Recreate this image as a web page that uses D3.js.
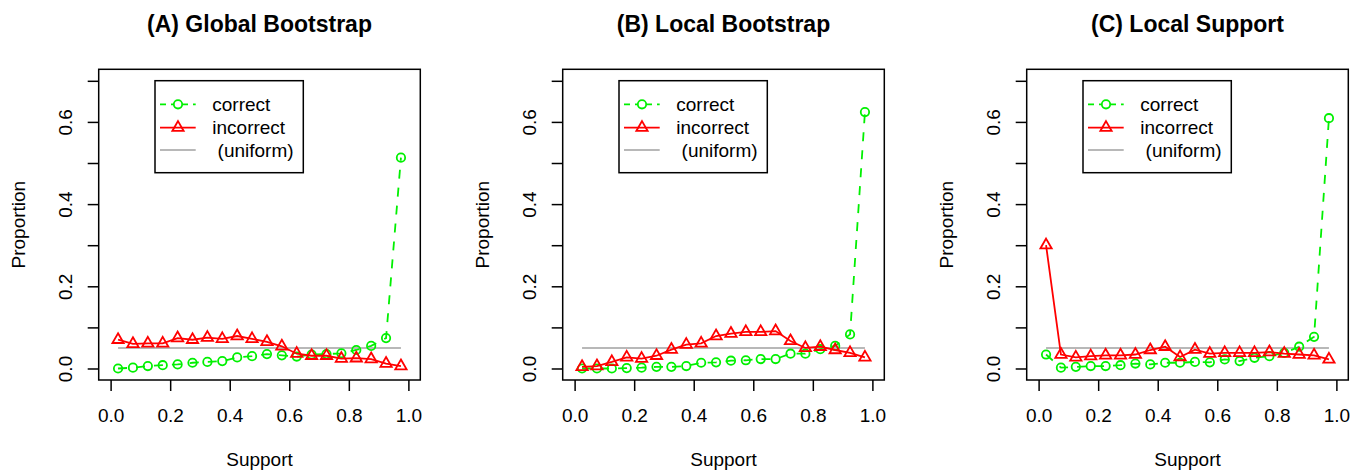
<!DOCTYPE html>
<html>
<head>
<meta charset="utf-8">
<script src="https://cdn.jsdelivr.net/npm/d3@7"></script>
<style>
  body { margin: 0; background: #fff; }
  svg { display: block; font-family: "Liberation Sans", Arial, sans-serif; }
</style>
</head>
<body>
<script>
/*
------------------------------
DATA: proportion of splits per support bin
------------------------------
*/
const bins = [0.025, 0.075, 0.125, 0.175, 0.225, 0.275, 0.325, 0.375, 0.425, 0.475,
              0.525, 0.575, 0.625, 0.675, 0.725, 0.775, 0.825, 0.875, 0.925, 0.975]

const titles = ["(A) Global Bootstrap", "(B) Local Bootstrap", "(C) Local Support"]

const globalCorrect = [0.000, 0.002, 0.006, 0.008, 0.010, 0.014, 0.016, 0.018, 0.027, 0.030,
                       0.035, 0.032, 0.029, 0.034, 0.035, 0.037, 0.045, 0.055, 0.074, 0.513]
const globalIncorrect = [0.070, 0.060, 0.061, 0.061, 0.074, 0.070, 0.075, 0.072, 0.079, 0.072,
                         0.065, 0.054, 0.036, 0.031, 0.031, 0.024, 0.025, 0.023, 0.012, 0.006]

const localBootCorrect = [0.000, 0.000, 0.000, 0.001, 0.002, 0.004, 0.004, 0.006, 0.014, 0.015,
                          0.019, 0.020, 0.023, 0.023, 0.036, 0.036, 0.047, 0.055, 0.083, 0.624]
const localBootIncorrect = [0.004, 0.006, 0.016, 0.027, 0.024, 0.031, 0.046, 0.058, 0.061, 0.079,
                            0.085, 0.089, 0.089, 0.091, 0.067, 0.050, 0.053, 0.045, 0.038, 0.027]

const localSupCorrect = [0.034, 0.002, 0.004, 0.006, 0.006, 0.008, 0.012, 0.010, 0.014, 0.014,
                         0.016, 0.015, 0.022, 0.018, 0.026, 0.030, 0.038, 0.053, 0.077, 0.609]
const localSupIncorrect = [0.300, 0.034, 0.027, 0.030, 0.032, 0.032, 0.034, 0.045, 0.053, 0.028,
                           0.046, 0.036, 0.038, 0.038, 0.038, 0.040, 0.036, 0.034, 0.032, 0.022]

const uniformX = [0.025, 0.975]
const uniformY = [0.05, 0.05]

const xTicks = [0, 0.2, 0.4, 0.6, 0.8, 1.0]
const yTicks = [0, 0.1, 0.2, 0.3, 0.4, 0.5, 0.6, 0.7]
const legendLabels = ["correct", "incorrect", " (uniform)"]

/*
------------------------------
METHOD: size of the canvas and the panels
------------------------------
*/
const width = 1361
const height = 474
const panelLeft = [98.7, 562.7, 1026.7]
const panelW = 321.6
const plotTop = 69.3
const plotBottom = 380

const green = "#00f000"
const red = "#ff0000"
const grey = "#b8b8b8"
const fontSize = 19
const markR = 4.2
const lw = 1.8

const svg = d3.select("body").append("svg")
  .attr("width", width)
  .attr("height", height)

svg.append("rect").attr("width", width).attr("height", height).attr("fill", "#fff")

// triangle like R's pch=2
function triangle(r) {
  return `M0,${-1.555 * r}L${1.347 * r},${0.778 * r}L${-1.347 * r},${0.778 * r}Z`
}

/*
------------------------------
METHOD: draw one panel
------------------------------
*/
function drawPanel(i, correct, incorrect) {
  const left = panelLeft[i]
  const x = d3.scaleLinear([-0.04, 1.04], [left, left + panelW])
  const y = d3.scaleLinear([-0.028, 0.728], [plotBottom, plotTop])
  const g = svg.append("g")

  // title
  g.append("text")
    .attr("x", left + panelW / 2)
    .attr("y", 31.5)
    .attr("text-anchor", "middle")
    .attr("font-weight", "bold")
    .attr("font-size", 23)
    .text(titles[i])

  // x axis
  const xa = g.append("g")
    .attr("transform", `translate(0,${plotBottom})`)
    .call(d3.axisBottom(x).tickValues(xTicks).tickSizeOuter(0).tickSize(11).tickFormat(d3.format(".1f")))
  xa.select(".domain").remove()
  xa.selectAll("line").attr("stroke", "#000").attr("stroke-width", 1.5)
  xa.selectAll("text")
    .attr("y", 42)
    .attr("dy", null)
    .attr("font-size", fontSize)
    .attr("fill", "#000")

  // y axis
  const ya = g.append("g")
    .attr("transform", `translate(${left},0)`)
    .call(d3.axisLeft(y).tickValues(yTicks).tickSizeOuter(0).tickSize(11)
      .tickFormat(d => Math.round(d * 10) % 2 === 0 ? d3.format(".1f")(d) : ""))
  ya.select(".domain").remove()
  ya.selectAll("line").attr("stroke", "#000").attr("stroke-width", 1.5)
  ya.selectAll("text")
    .attr("transform", "rotate(-90)")
    .attr("x", 0)
    .attr("y", -27)
    .attr("dy", null)
    .attr("text-anchor", "middle")
    .attr("font-size", fontSize)
    .attr("fill", "#000")

  // axis titles
  g.append("text")
    .attr("x", left + panelW / 2)
    .attr("y", 466)
    .attr("text-anchor", "middle")
    .attr("font-size", fontSize)
    .text("Support")

  g.append("text")
    .attr("transform", `translate(${left - 73.5},${(plotTop + plotBottom) / 2}) rotate(-90)`)
    .attr("text-anchor", "middle")
    .attr("font-size", fontSize)
    .text("Proportion")

  // uniform reference line
  const line = d3.line().x(d => x(d[0])).y(d => y(d[1]))
  g.append("path")
    .datum(d3.zip(uniformX, uniformY))
    .attr("fill", "none")
    .attr("stroke", grey)
    .attr("stroke-width", 2)
    .attr("d", line)

  // correct: dashed green with circles
  const cData = d3.zip(bins, correct)
  g.append("path")
    .datum(cData)
    .attr("fill", "none")
    .attr("stroke", green)
    .attr("stroke-width", lw)
    .attr("stroke-dasharray", "9,9")
    .attr("d", line)
  g.selectAll(".pc")
    .data(cData)
    .join("circle")
    .attr("class", "pc")
    .attr("cx", d => x(d[0]))
    .attr("cy", d => y(d[1]))
    .attr("r", markR)
    .attr("fill", "none")
    .attr("stroke", green)
    .attr("stroke-width", lw)

  // incorrect: solid red with triangles
  const iData = d3.zip(bins, incorrect)
  g.append("path")
    .datum(iData)
    .attr("fill", "none")
    .attr("stroke", red)
    .attr("stroke-width", lw)
    .attr("d", line)
  g.selectAll(".pi")
    .data(iData)
    .join("path")
    .attr("class", "pi")
    .attr("transform", d => `translate(${x(d[0])},${y(d[1])})`)
    .attr("d", triangle(markR))
    .attr("fill", "none")
    .attr("stroke", red)
    .attr("stroke-width", lw)

  // plot box
  g.append("rect")
    .attr("x", left)
    .attr("y", plotTop)
    .attr("width", panelW)
    .attr("height", plotBottom - plotTop)
    .attr("fill", "none")
    .attr("stroke", "#000")
    .attr("stroke-width", 1.5)

  // legend
  const lx = left + 56.3
  const ly = plotTop + 11.4
  const leg = g.append("g").attr("transform", `translate(${lx},${ly})`)
  leg.append("rect")
    .attr("width", 148.3)
    .attr("height", 92)
    .attr("fill", "#fff")
    .attr("stroke", "#000")
    .attr("stroke-width", 1.5)

  const rows = [23.6, 47, 69.3]
  const colors = [green, red, grey]
  const dashes = ["6,5", null, null]
  rows.forEach((ry, k) => {
    leg.append("line")
      .attr("x1", 5).attr("x2", 40.7)
      .attr("y1", ry).attr("y2", ry)
      .attr("stroke", colors[k])
      .attr("stroke-width", k === 2 ? 2 : lw)
      .attr("stroke-dasharray", dashes[k])
    leg.append("text")
      .attr("x", 57.3)
      .attr("y", ry + 6.8)
      .attr("font-size", fontSize)
      .style("white-space", "pre")
      .text(legendLabels[k])
  })
  leg.append("circle")
    .attr("cx", 23).attr("cy", rows[0]).attr("r", markR)
    .attr("fill", "#fff").attr("stroke", green).attr("stroke-width", lw)
  leg.append("path")
    .attr("transform", `translate(23,${rows[1]})`)
    .attr("d", triangle(markR))
    .attr("fill", "none").attr("stroke", red).attr("stroke-width", lw)
}

drawPanel(0, globalCorrect, globalIncorrect)
drawPanel(1, localBootCorrect, localBootIncorrect)
drawPanel(2, localSupCorrect, localSupIncorrect)
</script>
</body>
</html>
